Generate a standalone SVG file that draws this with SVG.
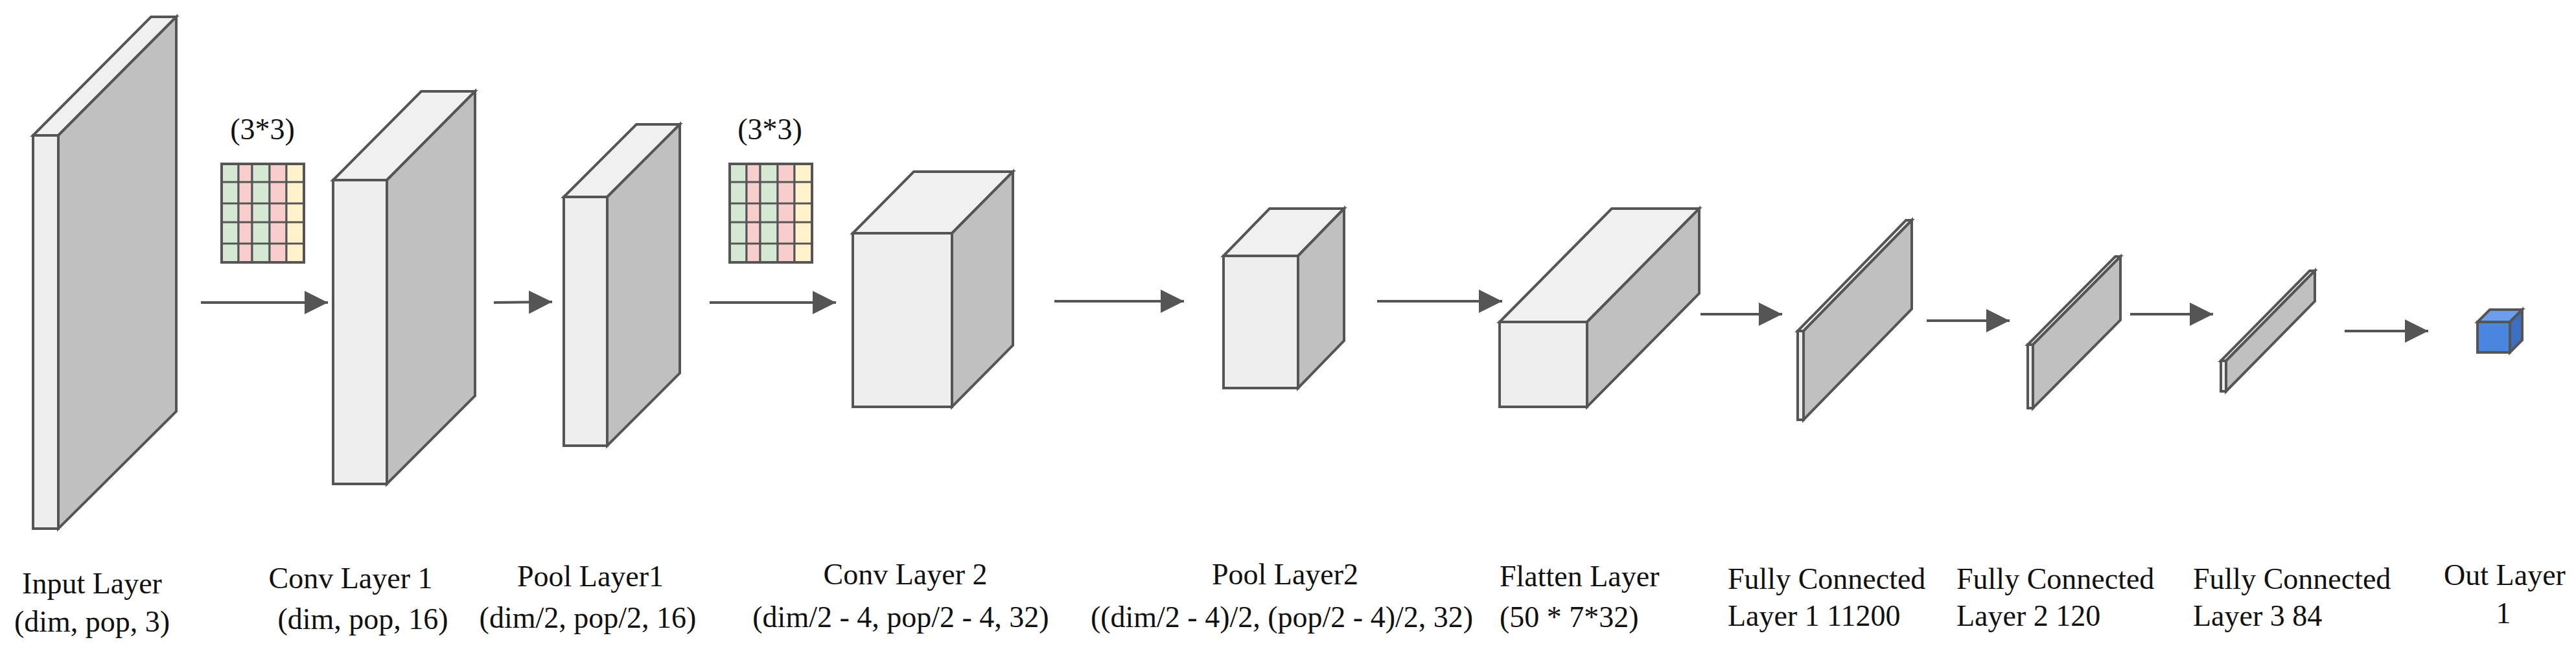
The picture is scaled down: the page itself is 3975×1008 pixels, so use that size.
<svg xmlns="http://www.w3.org/2000/svg" width="3975" height="1008" viewBox="0 0 3975 1008">
<style>
.f{fill:#eeeeee;stroke:#555;stroke-width:4;stroke-linejoin:miter}
.t{fill:#f0f0f0;stroke:#555;stroke-width:4}
.s{fill:#c0c0c0;stroke:#555;stroke-width:4}
.c{stroke:#555;stroke-width:4;fill:none}
.g{fill:#d5e8d4;stroke:#555;stroke-width:3}
.r{fill:#f8cecc;stroke:#555;stroke-width:3}
.y{fill:#fff2cc;stroke:#555;stroke-width:3}
text{font-family:"Liberation Serif","Times New Roman",serif;font-size:46px;fill:#111}
.m{text-anchor:middle}
</style>
<defs>
<marker id="ah" markerUnits="userSpaceOnUse" markerWidth="40" markerHeight="44" refX="36" refY="22" orient="auto" viewBox="0 0 40 44"><path d="M0,4 L36,22 L0,40 Z" fill="#555"/></marker>
<g id="kern">
<rect class="g" x="0" y="0" width="26" height="152"/>
<rect class="r" x="26" y="0" width="21" height="152"/>
<rect class="g" x="47" y="0" width="27" height="152"/>
<rect class="r" x="74" y="0" width="26" height="152"/>
<rect class="y" x="100" y="0" width="27" height="152"/>
<path d="M0,28 H127 M0,61 H127 M0,90 H127 M0,123 H127" stroke="#555" stroke-width="3"/>
<rect x="0" y="0" width="127" height="152" fill="none" stroke="#555" stroke-width="4"/>
</g>
</defs>
<g id="input"><rect class="f" x="51" y="209" width="39" height="607"/><polygon class="t" points="51,209 233,26 272,26 90,209"/><polygon class="s" points="90,209 272,26 272,635 90,816"/>
<text class="m" x="142" y="916">Input Layer</text><text class="m" x="142" y="975">(dim, pop, 3)</text></g>
<g id="kernel1"><text class="m" x="405" y="215">(3*3)</text><use href="#kern" x="342" y="253"/></g>
<g id="conv1"><rect class="f" x="514" y="278" width="83" height="469"/><polygon class="t" points="514,278 650,141 733,141 597,278"/><polygon class="s" points="597,278 733,141 733,611 597,747"/>
<text class="m" x="541" y="908">Conv Layer 1</text><text class="m" x="560" y="971">(dim, pop, 16)</text></g>
<g id="pool1"><rect class="f" x="870" y="304" width="67" height="384"/><polygon class="t" points="870,304 982,192 1049,192 937,304"/><polygon class="s" points="937,304 1049,192 1049,576 937,688"/>
<text class="m" x="911" y="905">Pool Layer1</text><text class="m" x="907" y="969">(dim/2, pop/2, 16)</text></g>
<g id="kernel2"><text class="m" x="1188" y="215">(3*3)</text><use href="#kern" x="1126" y="253"/></g>
<g id="conv2"><rect class="f" x="1316" y="360" width="153" height="268"/><polygon class="t" points="1316,360 1410,265 1563,265 1469,360"/><polygon class="s" points="1469,360 1563,265 1563,533 1469,628"/>
<text class="m" x="1397" y="902">Conv Layer 2</text><text class="m" x="1390" y="968">(dim/2 - 4, pop/2 - 4, 32)</text></g>
<g id="pool2"><rect class="f" x="1888" y="395" width="115" height="204"/><polygon class="t" points="1888,395 1959,322 2074,322 2003,395"/><polygon class="s" points="2003,395 2074,322 2074,526 2003,599"/>
<text class="m" x="1983" y="902">Pool Layer2</text><text class="m" x="1978" y="968">((dim/2 - 4)/2, (pop/2 - 4)/2, 32)</text></g>
<g id="flatten"><rect class="f" x="2314" y="497" width="135" height="131"/><polygon class="t" points="2314,497 2487,322 2622,322 2449,497"/><polygon class="s" points="2449,497 2622,322 2622,453 2449,628"/>
<text x="2314" y="905">Flatten Layer</text><text x="2314" y="968">(50 * 7*32)</text></g>
<g id="fc1"><rect class="f" x="2774" y="511" width="9" height="137"/><polygon class="t" points="2774,511 2941,340 2950,340 2783,511"/><polygon class="s" points="2783,511 2950,340 2950,477 2783,648"/>
<text x="2666" y="909">Fully Connected</text><text x="2666" y="966">Layer 1  11200</text></g>
<g id="fc2"><rect class="f" x="3129" y="532" width="8" height="98"/><polygon class="t" points="3129,532 3264,396 3272,396 3137,532"/><polygon class="s" points="3137,532 3272,396 3272,494 3137,630"/>
<text x="3019" y="909">Fully Connected</text><text x="3019" y="966">Layer 2  120</text></g>
<g id="fc3"><rect class="f" x="3427" y="557" width="8" height="47"/><polygon class="t" points="3427,557 3564,418 3572,418 3435,557"/><polygon class="s" points="3435,557 3572,418 3572,465 3435,604"/>
<text x="3384" y="909">Fully Connected</text><text x="3384" y="966">Layer 3  84</text></g>
<g id="out"><rect x="3823" y="497" width="50" height="47" fill="#4a86e0" stroke="#555" stroke-width="4"/><polygon points="3823,497 3842,478 3892,478 3873,497" fill="#6d9eeb" stroke="#555" stroke-width="4"/><polygon points="3873,497 3892,478 3892,525 3873,544" fill="#3c6fc0" stroke="#555" stroke-width="4"/>
<text class="m" x="3865" y="903">Out Layer</text><text class="m" x="3863" y="962">1</text></g>
<g id="connectors">
<line class="c" x1="310" y1="467" x2="506" y2="467" marker-end="url(#ah)"/>
<line class="c" x1="762" y1="467" x2="852" y2="466" marker-end="url(#ah)"/>
<line class="c" x1="1095" y1="467" x2="1290" y2="467" marker-end="url(#ah)"/>
<line class="c" x1="1627" y1="465" x2="1827" y2="465" marker-end="url(#ah)"/>
<line class="c" x1="2125" y1="465" x2="2318" y2="465" marker-end="url(#ah)"/>
<line class="c" x1="2624" y1="485" x2="2750" y2="485" marker-end="url(#ah)"/>
<line class="c" x1="2973" y1="495" x2="3101" y2="495" marker-end="url(#ah)"/>
<line class="c" x1="3287" y1="485" x2="3415" y2="485" marker-end="url(#ah)"/>
<line class="c" x1="3618" y1="511" x2="3747" y2="511" marker-end="url(#ah)"/>
</g>
</svg>
